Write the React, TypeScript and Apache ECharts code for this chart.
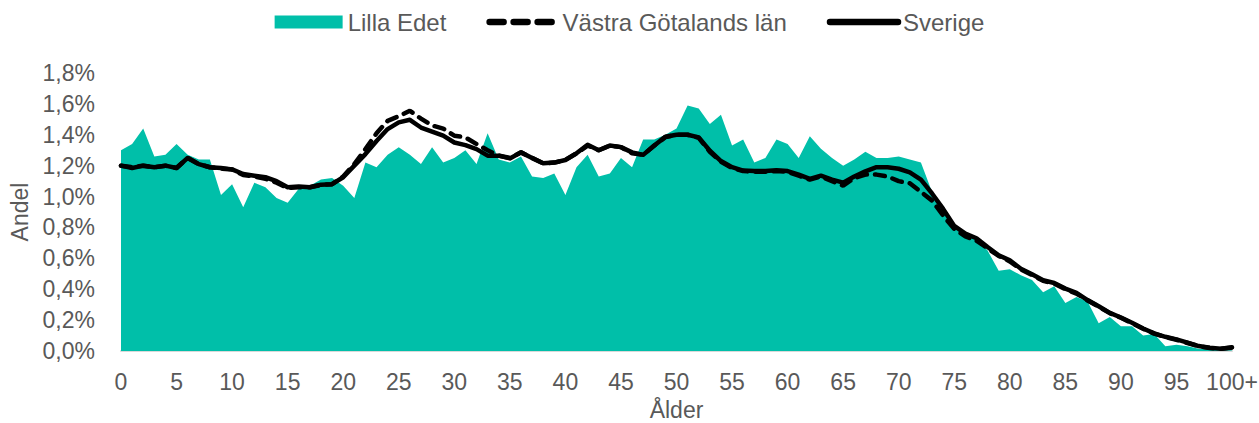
import React, { useEffect, useRef } from "react";
import * as echarts from "echarts";

const ages: string[] = [];
for (let i = 0; i <= 100; i++) ages.push(i === 100 ? "100+" : String(i));

const lillaEdet = [
  1.30, 1.34, 1.44, 1.26, 1.27, 1.34, 1.27, 1.24, 1.24, 1.01,
  1.08, 0.93, 1.09, 1.06, 0.99, 0.96, 1.05, 1.07, 1.11, 1.12,
  1.07, 0.99, 1.22, 1.19, 1.27, 1.32, 1.27, 1.21, 1.32, 1.22,
  1.25, 1.30, 1.21, 1.41, 1.24, 1.22, 1.26, 1.13, 1.12, 1.15,
  1.01, 1.19, 1.27, 1.13, 1.15, 1.25, 1.19, 1.37, 1.37, 1.40,
  1.44, 1.59, 1.57, 1.47, 1.53, 1.33, 1.37, 1.22, 1.25, 1.37,
  1.34, 1.25, 1.39, 1.31, 1.25, 1.20, 1.24, 1.29, 1.25, 1.25,
  1.26, 1.24, 1.22, 1.03, 0.90, 0.79, 0.76, 0.73, 0.65, 0.52,
  0.53, 0.49, 0.46, 0.38, 0.42, 0.31, 0.35, 0.32, 0.18, 0.22,
  0.16, 0.16, 0.10, 0.11, 0.03, 0.04, 0.03, 0.015, 0.01, 0.005,
  0.003,
];

const vastraGotaland = [
  1.20, 1.19, 1.20, 1.19, 1.20, 1.185, 1.25, 1.21, 1.19, 1.18,
  1.175, 1.14, 1.13, 1.115, 1.09, 1.055, 1.06, 1.06, 1.075, 1.08,
  1.13, 1.21, 1.307, 1.41, 1.49, 1.52, 1.555, 1.505, 1.46, 1.44,
  1.394, 1.383, 1.34, 1.30, 1.265, 1.25, 1.286, 1.25, 1.215, 1.22,
  1.237, 1.28, 1.33, 1.30, 1.33, 1.32, 1.28, 1.27, 1.33, 1.385,
  1.40, 1.40, 1.38, 1.29, 1.225, 1.185, 1.165, 1.16, 1.16, 1.165,
  1.16, 1.135, 1.11, 1.13, 1.10, 1.07, 1.12, 1.142, 1.142, 1.13,
  1.10, 1.086, 1.03, 0.974, 0.877, 0.79, 0.742, 0.715, 0.665, 0.615,
  0.58, 0.528, 0.492, 0.455, 0.436, 0.40, 0.372, 0.327, 0.287, 0.245,
  0.215, 0.18, 0.144, 0.112, 0.09, 0.073, 0.052, 0.031, 0.02, 0.014,
  0.022,
];

const sverige = [
  1.20, 1.185, 1.20, 1.19, 1.20, 1.185, 1.25, 1.21, 1.19, 1.185,
  1.176, 1.146, 1.135, 1.125, 1.10, 1.06, 1.065, 1.06, 1.077, 1.08,
  1.125, 1.20, 1.275, 1.36, 1.437, 1.48, 1.497, 1.447, 1.42, 1.394,
  1.35, 1.333, 1.307, 1.265, 1.265, 1.247, 1.286, 1.25, 1.215, 1.22,
  1.237, 1.28, 1.335, 1.30, 1.33, 1.32, 1.286, 1.27, 1.33, 1.387,
  1.40, 1.40, 1.383, 1.297, 1.23, 1.19, 1.168, 1.165, 1.165, 1.17,
  1.165, 1.142, 1.114, 1.135, 1.11, 1.09, 1.13, 1.163, 1.19, 1.19,
  1.18, 1.157, 1.11, 1.02, 0.92, 0.81, 0.76, 0.73, 0.673, 0.62,
  0.587, 0.533, 0.497, 0.458, 0.44, 0.404, 0.376, 0.33, 0.29, 0.247,
  0.217, 0.183, 0.146, 0.114, 0.092, 0.075, 0.054, 0.032, 0.021, 0.015,
  0.024,
];

const TEAL = "#00BFA9";
const GREY = "#595959";
const FONT = "Liberation Sans, Arial, sans-serif";

export default function App() {
  const ref = useRef<HTMLDivElement>(null);
  useEffect(() => {
    document.body.style.margin = "0";
    if (!ref.current) return;
    const chart = echarts.init(ref.current, undefined, { renderer: "svg" });
    chart.setOption({
      animation: false,
      backgroundColor: "#ffffff",
      textStyle: { fontFamily: FONT },
      legend: {
        top: 5,
        left: "center",
        itemWidth: 68,
        itemHeight: 13,
        itemGap: 40,
        textStyle: { color: GREY, fontSize: 24, fontFamily: FONT },
        data: [
          { name: "Lilla Edet", icon: "rect" },
          {
            name: "Västra Götalands län",
            itemStyle: { opacity: 0 },
            lineStyle: { width: 6.5, type: [14, 10], cap: "round", color: "#000000" },
          },
          {
            name: "Sverige",
            itemStyle: { opacity: 0 },
            lineStyle: { width: 6.5, type: "solid", cap: "round", color: "#000000" },
          },
        ],
      },
      grid: {
        left: 121,
        right: 27,
        top: 73,
        bottom: 72,
        containLabel: false,
        outerBoundsMode: "none",
      },
      xAxis: {
        type: "category",
        data: ages,
        boundaryGap: false,
        name: "Ålder",
        nameLocation: "middle",
        nameGap: 47,
        nameTextStyle: { color: GREY, fontSize: 23, fontFamily: FONT, lineHeight: 24 },
        axisLine: { show: true, lineStyle: { color: "#D9D9D9", width: 2 } },
        axisTick: { show: false },
        axisLabel: { interval: 4, color: GREY, fontSize: 23, fontFamily: FONT, margin: 19 },
        splitLine: { show: false },
      },
      yAxis: {
        type: "value",
        min: 0,
        max: 1.8,
        interval: 0.2,
        name: "Andel",
        nameLocation: "middle",
        nameGap: 90,
        nameRotate: 90,
        nameTextStyle: { color: GREY, fontSize: 23, fontFamily: FONT },
        axisLine: { show: false },
        axisTick: { show: false },
        splitLine: { show: false },
        axisLabel: {
          color: GREY,
          fontSize: 23,
          fontFamily: FONT,
          margin: 26,
          formatter: (v: number) => v.toFixed(1).replace(".", ",") + "%",
        },
      },
      series: [
        {
          name: "Lilla Edet",
          type: "line",
          data: lillaEdet,
          symbol: "none",
          itemStyle: { color: TEAL },
          lineStyle: { width: 0, color: TEAL },
          areaStyle: { color: TEAL, opacity: 1 },
        },
        {
          name: "Västra Götalands län",
          type: "line",
          data: vastraGotaland,
          symbol: "none",
          itemStyle: { color: "#000000" },
          lineStyle: { width: 4.5, color: "#000000", type: [10, 8], cap: "round" },
        },
        {
          name: "Sverige",
          type: "line",
          data: sverige,
          symbol: "none",
          itemStyle: { color: "#000000" },
          lineStyle: { width: 4.5, color: "#000000", cap: "round", join: "round" },
        },
      ],
    });
    return () => chart.dispose();
  }, []);
  return <div ref={ref} style={{ width: 1259, height: 423 }} />;
}
